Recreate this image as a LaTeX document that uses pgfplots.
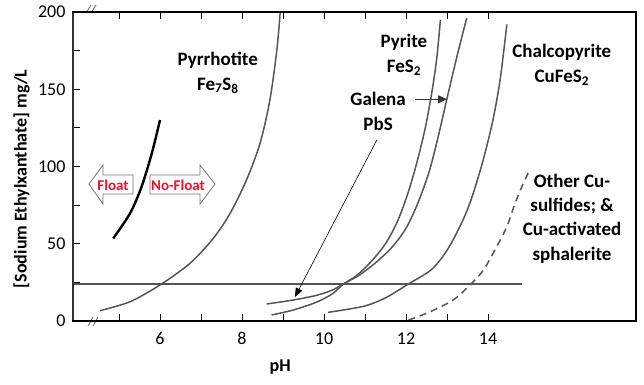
\documentclass[border=0pt]{standalone}
\usepackage{fontspec}
\setmainfont{Carlito}
\usepackage{pgfplots}
\pgfplotsset{compat=1.18}
\usetikzlibrary{arrows.meta,calc}
\definecolor{curvegray}{HTML}{555555}
\definecolor{floatred}{HTML}{F0102A}
\begin{document}
\begin{tikzpicture}
\begin{axis}[
  scale only axis, width=563pt, height=309pt,
  xmin=3.878, xmax=17.61, ymin=0, ymax=200,
  xtick={5,...,14}, xticklabels={,6,,8,,10,,12,,14},
  ytick={0,25,...,200}, yticklabels={0,,50,,100,,150,,200},
  xtick pos=both, ytick pos=left, tick align=inside,
  major tick length=7pt, tick style={line width=1pt, color=black},
  ticklabel style={font=\fontsize{18}{20}\selectfont},
  xticklabel style={yshift=-8pt},
  yticklabel style={xshift=-4pt},
  xlabel={\textbf{pH}}, ylabel={\textbf{[Sodium Ethylxanthate] mg/L}},
  label style={font=\fontsize{18}{20}\selectfont},
  xlabel style={at={(axis description cs:0.368,-0.15)},anchor=center},
  ylabel style={at={(axis description cs:-0.0915,0.46)},anchor=center},
]
% horizontal line
\addplot[curvegray, line width=1.5pt] coordinates {(3.878,24) (14.84,24)};
% Pyrrhotite
\addplot[curvegray, line width=1.5pt, smooth] coordinates {
 (4.54,6.7) (5.27,12.5) (6.00,23.3) (6.73,37.3) (7.30,53.5) (7.71,69.7)
 (8.11,91.3) (8.44,115) (8.68,143) (8.85,175.4) (8.93,199.2)};
% thick black curve
\addplot[black, line width=2.4pt, smooth] coordinates {
 (4.86,53.5) (5.27,69.7) (5.55,86.9) (5.80,108.5) (6.00,130.1)};
% Pyrite
\addplot[curvegray, line width=1.5pt, smooth] coordinates {
 (8.72,3.9) (9.25,7.1) (9.8,12) (10.2,17.5) (10.47,23.8) (10.8,29.5) (11.15,38.5)
 (11.5,50) (11.8,65) (12.05,83) (12.27,103) (12.47,125) (12.63,148) (12.75,170) (12.84,195)};
% Galena
\addplot[curvegray, line width=1.5pt, smooth] coordinates {
 (8.60,11) (9.25,13.6) (9.8,16.5) (10.2,20) (10.47,24) (10.85,29.5) (11.25,37.5)
 (11.65,47.5) (12.0,60) (12.3,77) (12.58,98) (12.8,121) (13.0,144) (13.25,172) (13.48,196)};
% Chalcopyrite
\addplot[curvegray, line width=1.5pt, smooth] coordinates {
 (10.1,5.6) (10.96,9.5) (11.5,15) (12.06,24) (12.63,33.5) (13.03,47) (13.40,66)
 (13.62,81) (13.88,104) (14.12,130) (14.3,157) (14.46,192)};
% Other Cu sulfides (dashed)
\addplot[curvegray, line width=1.5pt, smooth, dash pattern=on 7pt off 5pt] coordinates {
 (12.06,0.6) (12.59,6.0) (13.15,13.6) (13.56,23.3) (13.89,33) (14.21,48.1)
 (14.46,61) (14.66,76.2) (14.86,89.1) (14.98,95.6)};

% labels
\begin{scope}[every node/.style={font=\fontsize{19}{25}\selectfont\bfseries, align=center}]
\node at (axis cs:7.41,160.8) {Pyrrhotite\\Fe\textsubscript{7}S\textsubscript{8}};
\node at (axis cs:11.95,172.2) {Pyrite\\FeS\textsubscript{2}};
\node at (axis cs:11.32,135.9) {Galena\\PbS};
\node at (axis cs:15.80,165.7) {Chalcopyrite\\CuFeS\textsubscript{2}};
\node[font=\fontsize{19}{24.3}\selectfont\bfseries] at (axis cs:16.05,66.3) {Other Cu-\\sulfides; \&\\Cu-activated\\sphalerite};
\end{scope}
\draw[black, line width=0.6pt, -{Triangle[length=9pt,width=7pt]}] (axis cs:11.29,117.2) -- (axis cs:9.29,15.5);
\draw[black!80, line width=1pt, -{Triangle[length=9pt,width=8pt]}] (axis cs:12.22,143.5) -- (axis cs:13.0,143.5);

\coordinate (NW) at (rel axis cs:0,1);
\coordinate (SW) at (rel axis cs:0,0);
\coordinate (NE) at (rel axis cs:1,1);
\coordinate (SE) at (rel axis cs:1,0);
\end{axis}
% annotation arrows in pixel coordinates
\begin{scope}[x=1pt,y=-1pt,shift={(NW)},shift={(-73,-12)}]
\draw[black!55, line width=0.8pt, fill=white]
  (89,184) -- (103,165) -- (103,175) -- (133,175) -- (133,194) -- (103,194) -- (103,204) -- cycle;
\node[text=floatred, font=\fontsize{15}{17}\selectfont\bfseries] at (113,185) {Float};
\draw[black!55, line width=0.8pt, fill=white]
  (150,175) -- (200,175) -- (200,165) -- (215,184) -- (200,204) -- (200,194) -- (150,194) -- cycle;
\node[text=floatred, font=\fontsize{15}{17}\selectfont\bfseries] at (178,185) {No-Float};
% axis break marks
\draw[black!60, line width=0.8pt] (86,13) -- (91,5) (91,13) -- (96,5);
\draw[black!60, line width=0.8pt] (88,326) -- (93,317) (93,326) -- (98,317);
% page extent
\path (0,0) rectangle (644,384);
\end{scope}
% frame, drawn last as filled bars
\fill[black!80] ($(SW)+(-0.75pt,0)$) rectangle ($(NW)+(0.75pt,0)$);
\fill[black] ($(NW)+(-0.75pt,-1pt)$) rectangle ($(NE)+(1pt,1pt)$);
\fill[black] ($(SE)+(-1pt,0)$) rectangle ($(NE)+(1pt,0)$);
\fill[black] ($(SW)+(-0.75pt,-1.4pt)$) rectangle ($(SE)+(1pt,1.4pt)$);
\end{tikzpicture}
\end{document}
